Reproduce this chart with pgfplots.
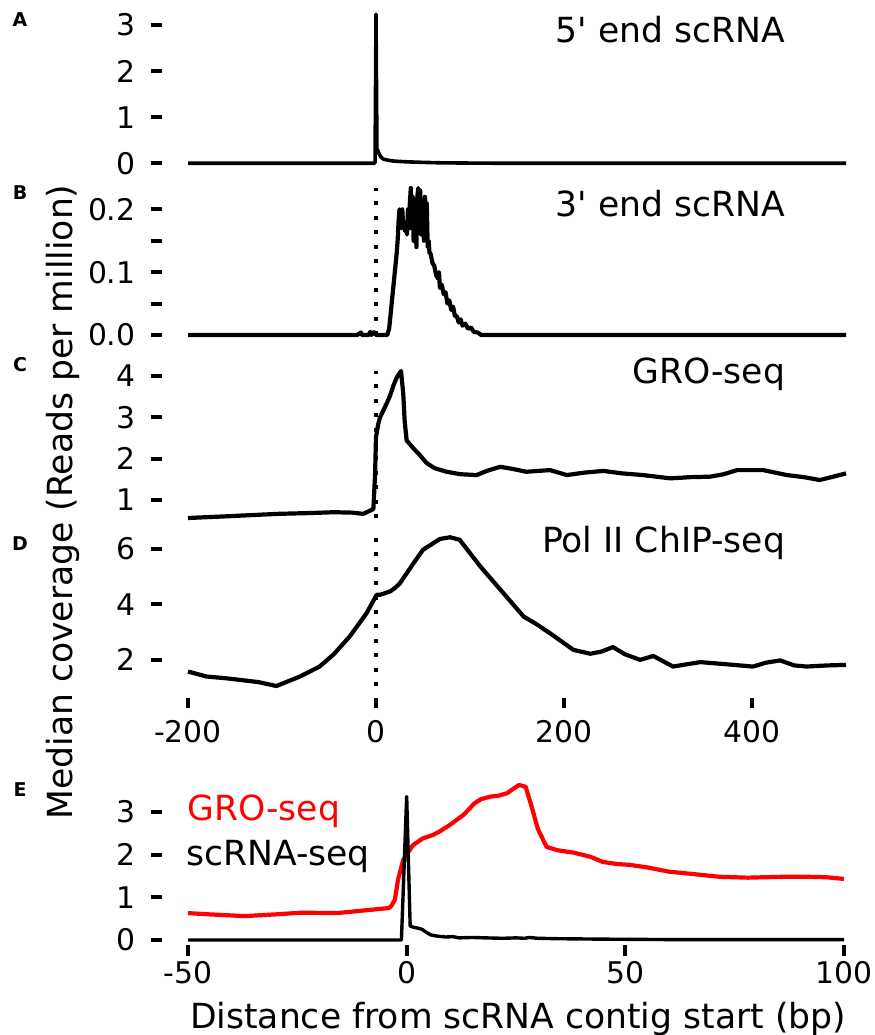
\documentclass[border=0pt]{standalone}
\usepackage{fontspec}
\setmainfont{DejaVu Sans}
\newfontfamily\dv{DejaVu Sans}
\usepackage{pgfplots}
\pgfplotsset{compat=1.18}

\newcommand{\labfont}{\dv\fontsize{24.6}{29}\selectfont}
\newcommand{\tickfont}{\fontsize{21.2}{25}\selectfont}

\pgfplotsset{
  panel/.style={
    scale only axis,
    anchor=south west,
    width=164.5mm,
    xmin=-200, xmax=500,
    axis x line=bottom, axis y line=left,
    axis line style={draw=none,-},
    tick align=outside,
    axis y line shift=6.5mm,
    major tick length=2.8mm,
    every tick/.style={black, line width=1mm},
    tick label style={font=\tickfont},
    yticklabel style={xshift=-2.6mm},
    /pgf/number format/assume math mode=true,
    xtick=\empty,
    clip=false,
  },
  trace/.style={black, line width=1.05mm, line join=round, mark=none},
  zeroline/.style={black, line width=1mm, dash pattern=on 1mm off 2.6mm, mark=none},
}

\begin{document}
\begin{tikzpicture}
\useasboundingbox (0,0) rectangle (218.5mm,-258.75mm);

% A: 5' end scRNA
\begin{axis}[panel, at={(47mm,-40.825mm)}, height=37.3mm,
  ymin=0, ymax=3.24, ytick={0,1,2,3}]
\addplot[trace, line width=0.9mm] coordinates {
  (-200,0) (-2,0) (-1,0.02) (0,3.24) (1,0.3) (2,0.28) (3,0.22) (5,0.14)
  (8,0.09) (12,0.07) (18,0.05) (25,0.04) (35,0.03) (50,0.02) (70,0.01)
  (100,0.005) (140,0) (500,0)};
\end{axis}

% B: 3' end scRNA
\begin{axis}[panel, at={(47mm,-83.75mm)}, height=36.75mm,
  ymin=0, ymax=0.234, ytick={0,0.05,0.1,0.15,0.2},
  yticklabels={0.0,,0.1,,0.2}]
\addplot[zeroline] coordinates {(0,0) (0,0.234)};
\addplot[trace] coordinates {
  (-200,0) (-20,0) (-16,0.004) (-15,0) (-8,0) (-6,0.005) (-5,0) (-3,0.004)
  (-1,0.004) (0,0) (12,0) (14,0.01) (16,0.04) (18,0.07) (20,0.1) (22,0.13)
  (23,0.15) (24,0.18) (25,0.2) (26,0.19) (27,0.17) (28,0.2) (29,0.17)
  (30,0.175) (31,0.165) (32,0.18) (33,0.16) (34,0.2) (35,0.17) (36,0.21)
  (37,0.234) (38,0.17) (39,0.22) (40,0.15) (41,0.21) (42,0.2) (43,0.14)
  (44,0.22) (45,0.234) (46,0.18) (47,0.23) (48,0.16) (49,0.21) (50,0.2)
  (51,0.15) (52,0.22) (53,0.2) (54,0.21) (55,0.14) (56,0.15) (57,0.13)
  (58,0.13) (60,0.115) (62,0.11) (64,0.095) (66,0.09) (67,0.1) (68,0.075)
  (70,0.08) (72,0.065) (74,0.068) (76,0.05) (78,0.055) (80,0.04) (82,0.045)
  (84,0.03) (86,0.03) (88,0.02) (90,0.025) (92,0.015) (95,0.018) (98,0.01)
  (101,0.012) (104,0.005) (108,0.004) (112,0) (500,0)};
\end{axis}

% C: GRO-seq
\begin{axis}[panel, at={(47mm,-129.5mm)}, height=36.75mm,
  ymin=0.56, ymax=4.12, ytick={1,2,3,4}]
\addplot[zeroline] coordinates {(0,0.56) (0,4.12)};
\addplot[trace] coordinates {
  (-200,0.56) (-160,0.6) (-105,0.66) (-70,0.68) (-45,0.7) (-25,0.69)
  (-13.6,0.66) (-4.3,0.76) (-2.8,0.78) (-1,1.6) (0,2.52) (2.5,2.85)
  (4.3,3.0) (11.3,3.33) (14.9,3.52) (18.4,3.76) (22,3.96) (26.6,4.12)
  (29,3.57) (30.5,2.9) (32.6,2.44) (39.7,2.25) (46,2.1) (53.9,1.89)
  (62,1.77) (75,1.68) (90,1.62) (107,1.6) (118,1.7) (132,1.8) (145,1.75)
  (160,1.68) (185,1.72) (203,1.6) (222,1.66) (242,1.7) (262,1.64) (284,1.6)
  (313,1.52) (335,1.55) (355,1.56) (370,1.62) (384,1.72) (412,1.72)
  (437,1.6) (455,1.55) (472,1.48) (488,1.57) (500,1.64)};
\end{axis}

% D: Pol II ChIP-seq
\begin{axis}[panel, at={(47mm,-171.5mm)}, height=37.25mm,
  ymin=1.06, ymax=6.42, ytick={2,4,6}]
\addplot[zeroline] coordinates {(0,1.06) (0,6.42)};
\addplot[trace] coordinates {
  (-200,1.58) (-180,1.4) (-160,1.34) (-145,1.28) (-125,1.2) (-106,1.06)
  (-81,1.4) (-60,1.76) (-45,2.2) (-28,2.84) (-10,3.68) (0.7,4.34)
  (4.3,4.34) (15,4.46) (20,4.58) (25.5,4.76) (40,5.48) (50,5.96) (68,6.35)
  (79,6.41) (89,6.32) (111,5.36) (134,4.46) (157,3.56) (170,3.3) (185,2.96)
  (210,2.36) (228,2.22) (240,2.3) (252,2.46) (265,2.2) (281,2.0) (295,2.14)
  (316,1.76) (345,1.92) (370,1.85) (401,1.76) (415,1.9) (430,1.98)
  (445,1.8) (458,1.76) (480,1.8) (500,1.82)};
\end{axis}

% E: overlay, zoomed
\begin{axis}[panel, at={(47mm,-235mm)}, height=38.75mm, width=164mm,
  xmin=-50, xmax=100, ymin=0, ymax=3.63, ytick={0,1,2,3},
  x tick style={yshift=-1.25mm},
  xticklabel style={anchor=north, inner sep=0pt, yshift=-2.5mm},
  xtick={-50,0,50,100}, xticklabels={-50,0,50,100}]
\addplot[red, line width=1.05mm, line join=round] coordinates {
  (-50,0.63) (-45,0.6) (-37,0.56) (-30,0.6) (-24,0.64) (-16,0.63) (-10,0.69)
  (-4,0.75) (-3.5,0.8) (-2.7,0.94) (-2,1.4) (-0.8,1.87) (0,2.0) (1.4,2.22)
  (3.7,2.38) (6,2.46) (7.5,2.54) (9.8,2.69) (13,2.93) (15.5,3.2) (17,3.3)
  (19.3,3.36) (21,3.38) (23,3.44) (24.5,3.55) (25.7,3.63) (27.2,3.59)
  (28.5,3.15) (30,2.6) (32,2.18) (34.6,2.1) (38,2.05) (42,1.95) (44.8,1.83)
  (48,1.78) (51,1.76) (55,1.7) (60,1.6) (65,1.55) (71.6,1.48) (78,1.46)
  (85.7,1.48) (92,1.48) (96,1.47) (100,1.43)};
\addplot[black, line width=0.85mm, line join=round] coordinates {
  (-50,0) (-1.2,0) (0,3.36) (0.8,0.33) (1.5,0.3) (2.5,0.28) (3.5,0.25)
  (4.5,0.18) (5.5,0.12) (7,0.09) (9,0.07) (10.5,0.08) (12,0.05) (15,0.06)
  (18,0.05) (22,0.04) (25,0.05) (27,0.04) (28,0.06) (30,0.04) (35,0.03)
  (45,0.02) (60,0.01) (100,0.01)};
\end{axis}

% shared x axis of A-D: a thin strip under panel D whose major grid
% lines serve as the tick marks
\begin{axis}[panel, at={(47mm,-177mm)}, height=2.5mm,
  ymin=0, ymax=1, ytick=\empty, major tick length=0pt,
  xmajorgrids=true, major grid style={black, line width=1mm},
  xticklabel style={anchor=north, inner sep=0pt, yshift=-3mm},
  xtick={-200,0,200,400}, xticklabels={-200,0,200,400}]
\end{axis}

% titles
\node[anchor=base east, font=\labfont] at (197.5mm,-10.75mm) {5' end scRNA};
\node[anchor=base east, font=\labfont] at (197.5mm,-54.25mm) {3' end scRNA};
\node[anchor=base east, font=\labfont] at (197.5mm,-95.75mm) {GRO-seq};
\node[anchor=base east, font=\labfont] at (197.5mm,-138mm) {Pol II ChIP-seq};

% legend text of E
\node[anchor=base west, font=\labfont, text=red, inner sep=0pt] at (46.75mm,-205mm) {GRO-seq};
\node[anchor=base west, font=\labfont, inner sep=0pt] at (46.5mm,-216.25mm) {scRNA-seq};

% panel letters
\foreach \l/\yy in {A/5, B/48.25, C/91.25, D/136, E/197.5}
  \node[font=\dv\bfseries\fontsize{13.5}{16}\selectfont] at (5mm,-\yy mm) {\l};

% axis labels
\node[rotate=90, anchor=base, font=\labfont] at (18mm,-125.5mm) {Median coverage (Reads per million)};
\node[anchor=base, font=\labfont] at (129.5mm,-257mm) {Distance from scRNA contig start (bp)};
\end{tikzpicture}
\end{document}
